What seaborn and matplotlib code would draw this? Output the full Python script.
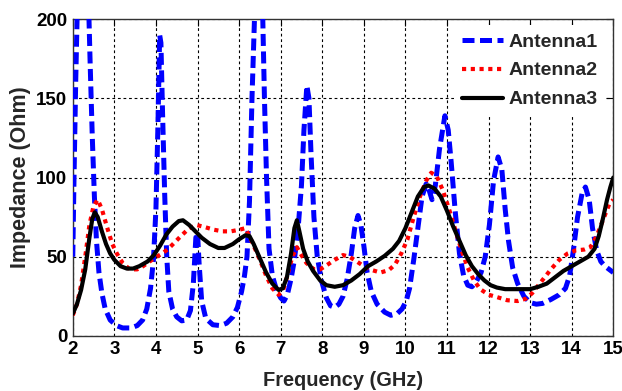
import matplotlib
matplotlib.use("Agg")
import matplotlib.pyplot as plt
import seaborn as sns
import pandas as pd

# ---------------- data ----------------
f_ant1 = [2.0, 2.03, 2.07, 2.12, 2.25, 2.37, 2.42, 2.47, 2.52, 2.57, 2.63, 2.7, 2.78, 2.9,
          3.05, 3.2, 3.4, 3.55, 3.68, 3.78, 3.87, 3.94, 4.0, 4.05, 4.09, 4.12, 4.16, 4.21,
          4.26, 4.31, 4.4, 4.5, 4.62, 4.74, 4.83, 4.9, 4.96, 5.0, 5.04, 5.1, 5.2, 5.37,
          5.55, 5.7, 5.85, 5.96, 6.06, 6.13, 6.19, 6.25, 6.31, 6.37, 6.47, 6.57, 6.61,
          6.66, 6.72, 6.8, 6.9, 7.0, 7.08, 7.16, 7.25, 7.33, 7.42, 7.5, 7.56, 7.63, 7.68,
          7.73, 7.8, 7.88, 7.98, 8.1, 8.2, 8.3, 8.4, 8.5, 8.6, 8.7, 8.78, 8.86, 8.93, 9.0,
          9.08, 9.18, 9.32, 9.5, 9.65, 9.8, 9.92, 10.02, 10.1, 10.2, 10.3, 10.4, 10.5,
          10.57, 10.64, 10.72, 10.82, 10.95, 11.03, 11.1, 11.2, 11.3, 11.4, 11.5, 11.6,
          11.7, 11.82, 11.92, 12.02, 12.12, 12.23, 12.32, 12.4, 12.48, 12.58, 12.7, 12.85,
          13.0, 13.15, 13.3, 13.5, 13.7, 13.85, 13.95, 14.04, 14.14, 14.25, 14.33, 14.42,
          14.5, 14.6, 14.7, 14.8, 14.9, 15.0]
z_ant1 = [50, 100, 160, 220, 250, 220, 170, 125, 88, 60, 40, 27, 17, 10,
          6.5, 5, 5, 6.5, 10, 17, 30, 48, 80, 135, 190, 185, 140, 90,
          50, 28, 17, 12, 9.5, 10, 16, 33, 62, 65, 45, 22, 11, 7,
          6.5, 8, 12, 18, 28, 38, 50, 85, 150, 200, 240, 200, 150,
          100, 55, 38, 29, 24, 22, 26, 36, 48, 68, 95, 130, 158, 150,
          115, 75, 50, 35, 24, 19, 18, 20, 25, 36, 52, 68, 76, 70, 57,
          40, 28, 20, 15, 13, 14, 17, 22, 30, 48, 68, 88, 96,
          92, 86, 95, 118, 139, 130, 110, 78, 52, 38, 32, 31,
          34, 40, 50, 70, 98, 113, 105, 80, 60, 43, 33, 25,
          21, 20, 20.5, 23, 26, 30, 38, 54, 75, 90, 94, 86,
          68, 54, 47, 44, 42, 40]

f_ant2 = [2.0, 2.1, 2.2, 2.3, 2.4, 2.5, 2.6, 2.7, 2.82, 2.95, 3.06, 3.2, 3.37, 3.55, 3.69,
          3.85, 4.02, 4.15, 4.3, 4.45, 4.6, 4.8, 4.98, 5.2, 5.4, 5.6, 5.8, 6.0, 6.15, 6.3,
          6.5, 6.65, 6.8, 6.95, 7.05, 7.15, 7.28, 7.39, 7.5, 7.62, 7.8, 7.95, 8.1, 8.3,
          8.5, 8.65, 8.8, 9.0, 9.2, 9.4, 9.6, 9.75, 9.9, 10.05, 10.2, 10.35, 10.5, 10.62,
          10.75, 10.9, 11.05, 11.2, 11.35, 11.5, 11.65, 11.8, 12.0, 12.2, 12.45, 12.7,
          12.9, 13.05, 13.2, 13.35, 13.5, 13.7, 13.9, 14.1, 14.3, 14.45, 14.6, 14.75,
          14.9, 15.0]
z_ant2 = [13, 20, 32, 50, 70, 82, 86, 80, 69, 58, 52, 46, 42, 42, 44,
          47, 50, 52, 55, 59, 63, 68, 70, 68.5, 67, 66, 66, 67, 68, 60,
          48, 38, 30, 26, 28, 37, 50, 56, 51, 46, 42, 42, 44.5, 48,
          51, 50, 47.5, 44, 41.5, 40, 41.5, 45, 52, 61, 75, 88, 98, 103,
          101, 92, 80, 67, 54, 43, 35, 29.5, 26, 24.5, 22.5, 22,
          23.5, 27, 32, 37, 42, 48, 52, 54, 54.5, 56, 63, 73,
          83, 86]

f_ant3 = [2.0, 2.1, 2.2, 2.3, 2.4, 2.47, 2.53, 2.6, 2.7, 2.8, 2.9, 3.0, 3.15, 3.3, 3.45,
          3.6, 3.8, 3.95, 4.1, 4.25, 4.4, 4.55, 4.65, 4.8, 4.95, 5.1, 5.3, 5.5, 5.65, 5.85,
          6.0, 6.15, 6.25, 6.35, 6.5, 6.65, 6.8, 6.95, 7.05, 7.15, 7.25, 7.33, 7.39, 7.45,
          7.54, 7.65, 7.78, 7.95, 8.1, 8.3, 8.5, 8.7, 8.9, 9.1, 9.3, 9.5, 9.7, 9.85, 10.0,
          10.15, 10.3, 10.45, 10.55, 10.7, 10.85, 11.0, 11.15, 11.3, 11.45, 11.6, 11.75,
          11.9, 12.05, 12.2, 12.4, 12.7, 13.0, 13.2, 13.4, 13.6, 13.8, 14.0, 14.2, 14.4,
          14.55, 14.65, 14.75, 14.85, 14.93, 15.0]
z_ant3 = [14, 20, 29, 42, 62, 74, 78, 75, 66, 58, 52, 48, 44, 42.5, 42.5,
          44, 47, 51, 57, 64, 69, 72.5, 73, 70, 66, 62, 58, 55.5, 55.5, 58,
          61, 63.5, 63, 58, 49, 40, 33, 29, 30, 37, 52, 68, 73, 66,
          55, 47, 41, 35, 32, 31, 32, 35, 39, 44, 47, 50.5, 55, 60, 68,
          78, 88, 94, 95, 93, 88, 79, 69, 60, 51, 44, 39,
          35, 32, 30.5, 29.5, 29.5, 29.5, 31, 33, 37, 41, 44, 47, 50,
          55, 63, 74, 86, 94, 100]

labels = ["Antenna1", "Antenna2", "Antenna3"]
x_ticks = list(range(2, 16))
y_ticks = [0, 50, 100, 150, 200]

# ---------------- plotting ----------------
sns.set_theme(style="white")
plt.rcParams["font.family"] = ["Liberation Sans", "DejaVu Sans"]

fig = plt.figure(figsize=(6.22, 3.91), dpi=100)
ax = fig.add_axes([0.117, 0.141, 0.869, 0.810])

d1 = pd.DataFrame({"f": f_ant1, "z": z_ant1})
d2 = pd.DataFrame({"f": f_ant2, "z": z_ant2})
d3 = pd.DataFrame({"f": f_ant3, "z": z_ant3})

sns.lineplot(data=d1, x="f", y="z", ax=ax, color="#0000ff", linewidth=3.6,
             linestyle=(0, (2.4, 1.1)), label=labels[0], zorder=3)
sns.lineplot(data=d2, x="f", y="z", ax=ax, color="#ff0000", linewidth=3.0,
             linestyle=(0, (1, 1.1)), label=labels[1], zorder=4)
sns.lineplot(data=d3, x="f", y="z", ax=ax, color="black", linewidth=3.0,
             linestyle="-", label=labels[2], zorder=5)

ax.set_xlim(2, 15)
ax.set_ylim(0, 200)
ax.set_xticks(x_ticks)
ax.set_yticks(y_ticks)
ax.grid(True, color="black", linestyle=(0, (2.5, 2.5)), linewidth=0.8)
ax.set_axisbelow(True)
ax.tick_params(direction="in", top=True, right=True, length=5, width=0.8,
               labelsize=13.5, colors="black", pad=4)
for lab in ax.get_xticklabels() + ax.get_yticklabels():
    lab.set_fontweight("bold")
for s in ax.spines.values():
    s.set_color("#333333")
    s.set_linewidth(1.0)

ax.set_xlabel("Frequency (GHz)", fontsize=14.4, fontweight="bold", labelpad=9)
ax.set_ylabel("Impedance (Ohm)", fontsize=15.5, fontweight="bold", labelpad=4)

leg = ax.legend(loc="upper left", bbox_to_anchor=(0.706, 0.981), frameon=True,
                fontsize=14, handlelength=2.1, handletextpad=0.3, labelspacing=0.58,
                borderaxespad=0, borderpad=0.4, fancybox=False, framealpha=1.0,
                facecolor="white", edgecolor="none")
leg.set_zorder(10)
for t in leg.get_texts():
    t.set_fontweight("bold")

fig.savefig("out.png", dpi=100)
